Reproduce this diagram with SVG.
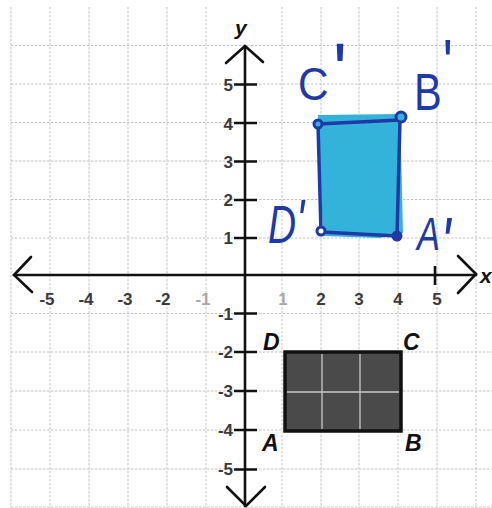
<svg xmlns="http://www.w3.org/2000/svg" width="492" height="508" viewBox="0 0 492 508">
<style>
.grid{stroke:#c2c2c2;stroke-width:1;stroke-dasharray:2.5 1.5;fill:none}
.axis{stroke:#111;stroke-width:2.6;fill:none;stroke-linecap:round}
.tick{stroke:#111;stroke-width:2.6}
.num{font-family:"Liberation Sans",Arial,sans-serif;font-size:17px;font-weight:bold;fill:#3a3a3a}
.faded{fill:#a8a8a8}
.ax{font-family:"Liberation Sans",Arial,sans-serif;font-size:21px;font-weight:bold;font-style:italic;fill:#111}
.pt{font-family:"Liberation Sans",Arial,sans-serif;font-size:23px;font-weight:bold;font-style:italic;fill:#111}
.hand{font-family:"Liberation Sans",Arial,sans-serif;fill:#1f3aa6}
</style>
<rect width="492" height="508" fill="#fff"/>
<g id="grid">
<path class="grid" d="M11 7V508M50 7V508M89 7V508M128 7V508M167 7V508M206 7V508M282 7V508M321 7V508M359 7V508M398 7V508M437 7V508M476 7V508"/>
<path class="grid" d="M11 45.5H492M11 84H492M11 122.5H492M11 161H492M11 199.5H492M11 238H492M11 313.5H492M11 352H492M11 391H492M11 430H492M11 469H492M11 507H492"/>
</g>
<g id="original-rect">
<rect x="285" y="352" width="116" height="79" fill="#4a4a4a" stroke="#111" stroke-width="3.5"/>
<path d="M322 354V429M360 354V429M287 392H399" stroke="#c8c8c8" stroke-width="1.3"/>
<text class="pt" x="263" y="350">D</text>
<text class="pt" x="403" y="350">C</text>
<text class="pt" x="262" y="451">A</text>
<text class="pt" x="405" y="451">B</text>
</g>
<g id="image-rect">
<path d="M318 115 L400 114 L402 190 L403 233 L380 238 L323 236 Z" fill="#33b3da"/>
<path d="M318 124 L400 120 L397 236 L321 232 Z" fill="none" stroke="#1f3aa6" stroke-width="3.5" stroke-linejoin="round"/>
<circle cx="318" cy="124" r="4" fill="#33b3da" stroke="#1f3aa6" stroke-width="3"/>
<circle cx="401" cy="117" r="5" fill="#33b3da" stroke="#1f3aa6" stroke-width="3"/>
<circle cx="321" cy="231" r="4" fill="#fff" stroke="#1f3aa6" stroke-width="3"/>
<circle cx="397" cy="236" r="4" fill="#1f3aa6" stroke="#1f3aa6" stroke-width="3"/>
<text class="hand" transform="translate(298 100) scale(0.92 1)"><tspan x="0" y="0" font-size="46">C</tspan><tspan x="38" y="-1" font-size="80">'</tspan></text>
<text class="hand" transform="translate(414 110) scale(0.8 1)"><tspan x="0" y="0" font-size="52">B</tspan><tspan x="36" y="-24" font-size="66">'</tspan></text>
<text class="hand" font-style="italic" transform="translate(268 243) scale(0.72 1)"><tspan x="0" y="0" font-size="54">D</tspan><tspan x="39" y="-2" font-size="60">'</tspan></text>
<text class="hand" font-style="italic" transform="translate(417 250) scale(0.75 1)"><tspan x="0" y="0" font-size="46">A</tspan><tspan x="31" y="18" font-size="72">'</tspan></text>
</g>
<g id="axes">
<path class="axis" d="M14 275H476"/>
<path class="axis" d="M245 46V506"/>
<path class="axis" d="M31 257L14 275L32 292"/>
<path class="axis" d="M458 256L476 274L458 293"/>
<path class="axis" d="M226 63L245 46L263 62"/>
<path class="axis" d="M227 487L246 506L265 487"/>
<path class="tick" d="M234 84.5H257M234 123H257M234 161.5H257M234 200H257M234 238H257M234 313.5H257M234 352H257M234 391H257M234 430H257M234 469.5H257M435 266V285"/>
<text class="ax" x="235" y="35">y</text>
<text class="ax" x="480" y="283">x</text>
</g>
<g id="labels">
<g class="num" text-anchor="middle">
<text x="47" y="305">-5</text>
<text x="86" y="305">-4</text>
<text x="125" y="305">-3</text>
<text x="163" y="305">-2</text>
<text x="203" y="305" class="num faded">-1</text>
<text x="283" y="305" class="num faded">1</text>
<text x="321" y="305">2</text>
<text x="359" y="305">3</text>
<text x="398" y="305">4</text>
<text x="437" y="305">5</text>
</g>
<g class="num" text-anchor="end">
<text x="233" y="91">5</text>
<text x="233" y="130">4</text>
<text x="233" y="168">3</text>
<text x="233" y="206">2</text>
<text x="233" y="244">1</text>
<text x="233" y="320">-1</text>
<text x="233" y="358">-2</text>
<text x="233" y="397">-3</text>
<text x="233" y="436">-4</text>
<text x="233" y="475">-5</text>
</g>
</g>
</svg>
